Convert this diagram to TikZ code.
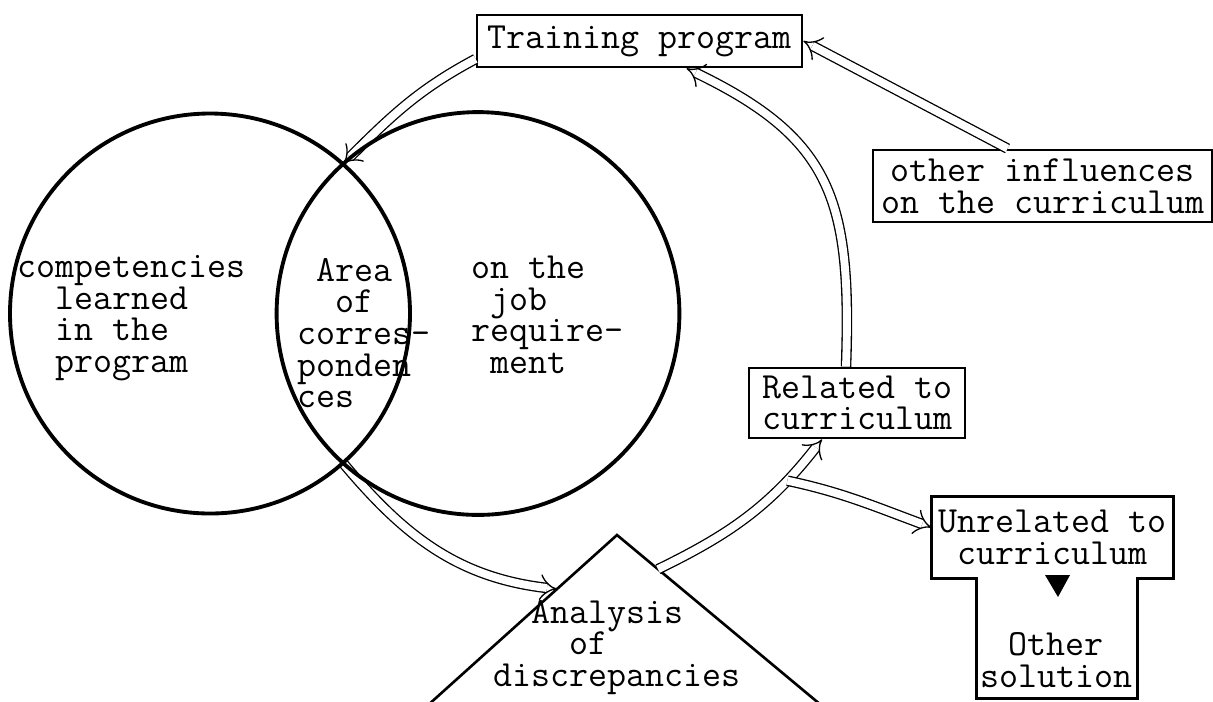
\documentclass[tikz,border=0pt]{standalone}
\usepackage{fontspec}
\usetikzlibrary{arrows.meta,bending,calc}
\newcommand\twfont{\ttfamily\fontsize{21}{18}\selectfont\lineskiplimit=-20pt\relax}

\begin{document}
\begin{tikzpicture}[x=0.02cm,y=0.02cm,
	box/.style={draw,line width=1.6pt,inner sep=0pt,align=center},
	lbl/.style={inner sep=0pt,anchor=west,align=left},
	flow/.style={double,double distance=4.5pt,line width=0.75pt,-{Implies[scale=1.7]}},
	every node/.style={font=\twfont}]
	\path[use as bounding box,clip] (0,0) rectangle (1213,-701);

	% boxes
	\node[box,minimum width=6.5cm,minimum height=1.04cm] (train) at (639.5,-41) {Training program};
	\node[box,minimum width=6.78cm,minimum height=1.44cm] (other) at (1042.5,-186) {other influences\\on the curriculum};
	\node[box,minimum width=4.32cm,minimum height=1.4cm] (rel) at (857,-403) {Related to\\curriculum};
	\node[align=center,minimum width=4.82cm,minimum height=1.62cm,inner sep=0pt] (unrel) at (1052.5,-537.5) {Unrelated to\\curriculum};
	\node[align=center] (sol) at (1056,-660) {Other\\solution};
	\draw[line width=1.6pt] (unrel.north west) -- (unrel.north east) -- (unrel.south east) -- ++(-36,0) -- ++(0,-120) -- ++(-161,0) -- ++(0,120) -- (unrel.south west) -- cycle;
	\fill (1045,-575) -- (1070,-575) -- (1058,-597) -- cycle;

	% triangle
	\coordinate (apex) at (617,-535);
	\coordinate (tbl) at (417,-715);
	\coordinate (tbr) at (833,-715);
	\draw[line width=1.5pt] (tbl) -- (apex) -- (tbr) -- cycle;
	\coordinate (tl) at ($(apex)!0.3!(tbl)$);
	\coordinate (tr) at ($(apex)!0.19!(tbr)$);
	\node[lbl] (anal) at (493,-647.5) {\phantom{xx}Analysis\\\phantom{xxxx}of\\discrepancies};

	% venn
	\coordinate (lc) at (210,-313.5);
	\coordinate (rc) at (478,-313.5);
	\coordinate (topx) at (343,-164);
	\coordinate (botx) at (343,-463);
	\node[lbl] (learn) at (17,-318) {competencies\\\phantom{xx}learned\\\phantom{xx}in the\\\phantom{xx}program};
	\node[lbl] (area) at (297,-333) {\phantom{x}Area\\\phantom{xx}of\\corres-\\ponden\\ces};
	\node[lbl] (need) at (471,-315) {on the\\\phantom{x}job\\require-\\\phantom{x}ment};

	% flows
	\draw[flow] ([yshift=-0.36cm]train.west) to[out=208,in=45] (topx);
	\draw[flow] (botx) to[out=-50,in=175] (tl);
	\draw[flow] (tr) to[out=26,in=233] coordinate[pos=0.76] (fork) ([xshift=-0.7cm]rel.south);
	\draw[flow] (fork) to[out=-12,in=160] ([yshift=0.2cm]unrel.west);
	\draw[flow] ([xshift=-0.22cm]rel.north) .. controls +(88:170) and +(-25:160) .. ([xshift=0.94cm]train.south);
	\draw[flow] ([xshift=-0.7cm]other.north) -- (train.east);

	\draw[line width=2.2pt] (lc) circle [radius=200];
	\draw[line width=2.2pt] (rc) circle [radius=201.4];
\end{tikzpicture}
\end{document}
